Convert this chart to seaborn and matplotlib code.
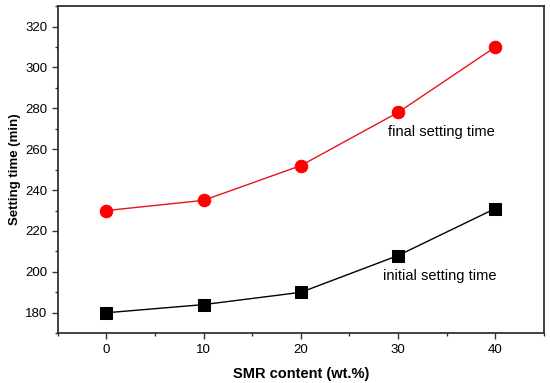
"""Setting time vs SMR content."""

import matplotlib
matplotlib.use('Agg')
import matplotlib.pyplot as plt
from matplotlib.ticker import MultipleLocator
import seaborn as sns
import pandas as pd

# data
smr_content = [0, 10, 20, 30, 40]
initial_setting = [180, 184, 190, 208, 231]
final_setting = [230, 235, 252, 278, 310]

sns.set_style("ticks")
plt.rcParams['font.family'] = ['Liberation Sans', 'DejaVu Sans']
plt.rcParams['text.color'] = 'black'
plt.rcParams['axes.labelcolor'] = 'black'
plt.rcParams['xtick.color'] = '#333333'
plt.rcParams['ytick.color'] = '#333333'
plt.rcParams['xtick.labelcolor'] = 'black'
plt.rcParams['ytick.labelcolor'] = 'black'

df = pd.DataFrame({
    'smr': smr_content,
    'initial': initial_setting,
    'final': final_setting,
})

fig = plt.figure(figsize=(5.5, 3.83), dpi=100)
ax = fig.add_axes([0.105, 0.13, 0.884, 0.854])

sns.lineplot(data=df, x='smr', y='initial', ax=ax, color='black', lw=1,
             marker='s', markersize=8, markeredgecolor='black')
sns.lineplot(data=df, x='smr', y='final', ax=ax, color='#e8141c', lw=1,
             marker='o', markersize=9, markeredgecolor='#ff0000',
             markerfacecolor='#ff0000')

ax.text(34.4, 268.2, 'final setting time', ha='center', va='center', fontsize=10.5)
ax.text(34.3, 198, 'initial setting time', ha='center', va='center', fontsize=10.5)

ax.set_xlim(-5, 45)
ax.set_ylim(170, 330)
ax.xaxis.set_major_locator(MultipleLocator(10))
ax.xaxis.set_minor_locator(MultipleLocator(5))
ax.yaxis.set_major_locator(MultipleLocator(20))
ax.yaxis.set_minor_locator(MultipleLocator(10))
ax.tick_params(which='major', length=4, width=1, labelsize=9.5, direction='out')
ax.tick_params(which='minor', length=2.5, width=1, direction='out')

for side in ['left', 'right', 'top', 'bottom']:
    ax.spines[side].set_visible(True)
    ax.spines[side].set_color('#333333')
    ax.spines[side].set_linewidth(1.3)

ax.set_xlabel('SMR content (wt.%)', fontsize=10.5, fontweight='bold', labelpad=8)
ax.set_ylabel('Setting time (min)', fontsize=9.5, fontweight='bold', labelpad=3)

fig.savefig('out.png', dpi=100)
